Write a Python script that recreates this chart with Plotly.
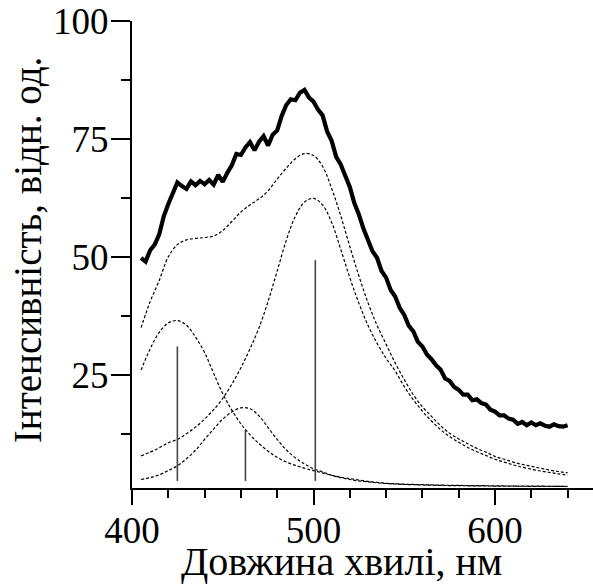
import plotly.graph_objects as go
import numpy as np

# Measured spectrum (thick line), 2.5 nm step from 405 to 640 nm
wl_meas = np.arange(405, 640.01, 2.5)
intensity_meas = [
    49.8, 49.0, 51.4, 52.6, 54.8, 58.6, 61.2, 63.8, 65.8, 65.0,
    64.4, 66.0, 65.2, 66.1, 65.4, 66.3, 65.3, 67.4, 65.9, 67.8,
    69.4, 71.8, 71.6, 73.2, 74.3, 72.6, 74.4, 75.6, 73.6, 75.9,
    76.8, 79.9, 82.2, 83.4, 83.2, 84.8, 85.4, 83.8, 82.9, 81.2,
    80.0, 76.6, 74.6, 71.2, 69.6, 67.2, 64.8, 61.4, 59.0, 56.0,
    53.8, 51.2, 49.8, 47.0, 45.6, 43.0, 41.6, 39.2, 37.7, 35.4,
    34.2, 32.0, 31.0, 29.3, 28.3, 27.0, 26.1, 24.2, 23.7, 22.4,
    21.8, 20.8, 20.8, 19.6, 19.8, 19.0, 18.7, 17.6, 17.2, 16.4,
    16.4, 15.7, 15.5, 14.6, 15.0, 14.3, 14.9, 14.3, 14.7, 14.2,
    14.0, 14.5, 14.1, 14.0, 14.3,
]

# Fitted components (dashed), 5 nm step from 405 to 640 nm
wl_fit = np.arange(405, 640.01, 5)
fit_sum = [
    35.0, 40.5, 45.0, 50.0, 52.6, 53.6, 53.9, 54.1, 54.4, 55.6,
    57.5, 59.5, 61.0, 62.3, 64.0, 66.5, 68.8, 70.8, 71.9, 71.5,
    69.2, 64.5, 58.7, 52.2, 46.0, 40.3, 35.5, 31.5, 27.5, 24.0,
    20.8, 18.2, 16.2, 14.2, 12.6, 11.4, 10.4, 9.4, 8.6, 7.7,
    7.1, 6.5, 6.0, 5.6, 5.2, 4.8, 4.5, 4.2,
]
band_425 = [
    26.0, 30.5, 34.0, 36.0, 36.5, 35.5, 33.0, 29.7, 25.3, 21.0,
    17.5, 14.6, 12.3, 10.4, 8.8, 7.5, 6.5, 5.8, 5.2, 4.7,
    4.2, 3.7, 3.3, 3.0, 2.7, 2.4, 2.2, 2.0, 1.9, 1.8,
    1.75, 1.7, 1.65, 1.6, 1.58, 1.55, 1.52, 1.5, 1.48, 1.45,
    1.43, 1.42, 1.4, 1.39, 1.38, 1.37, 1.36, 1.35,
]
band_462 = [
    2.8, 3.2, 3.8, 4.7, 5.7, 7.2, 9.0, 11.3, 13.5, 15.6,
    17.1, 18.0, 17.8, 16.3, 13.8, 11.3, 9.1, 7.4, 6.1, 5.1,
    4.4, 3.7, 3.2, 2.8, 2.5, 2.3, 2.1, 1.95, 1.85, 1.75,
    1.7, 1.65, 1.6, 1.55, 1.52, 1.5, 1.47, 1.45, 1.43, 1.41,
    1.4, 1.38, 1.37, 1.36, 1.35, 1.34, 1.33, 1.32,
]
band_500 = [
    7.8, 8.6, 9.5, 10.6, 11.3, 12.5, 13.9, 15.6, 17.6, 20.0,
    23.0, 26.5, 30.5, 35.0, 40.6, 47.0, 53.5, 58.6, 61.6, 62.4,
    61.0, 57.3, 51.6, 45.6, 40.2, 35.5, 31.7, 28.5, 25.8, 22.5,
    19.7, 17.3, 15.2, 13.4, 11.9, 10.7, 9.6, 8.7, 7.9, 7.1,
    6.5, 5.9, 5.4, 5.0, 4.6, 4.3, 4.0, 3.7,
]

# Band positions (vertical lines)
band_pos = [425, 462.5, 501]
band_top = [31.0, 13.3, 49.3]
band_base = 2.5

x_ticks = [400, 500, 600]
y_ticks = [25, 50, 75, 100]

fig = go.Figure()

dash = "3px,2px"
for ys in [fit_sum, band_425, band_462, band_500]:
    fig.add_trace(go.Scatter(
        x=wl_fit, y=ys, mode="lines", line_shape="spline",
        line=dict(color="black", width=1.2, dash=dash),
        showlegend=False, hoverinfo="skip"))

vx, vy = [], []
for p, h in zip(band_pos, band_top):
    vx += [p, p, None]
    vy += [band_base, h, None]
fig.add_trace(go.Scatter(x=vx, y=vy, mode="lines",
                         line=dict(color="#444444", width=1.6),
                         showlegend=False, hoverinfo="skip"))

fig.add_trace(go.Scatter(
    x=wl_meas, y=intensity_meas, mode="lines",
    line=dict(color="black", width=4.2),
    showlegend=False, hoverinfo="skip"))

font_family = "Liberation Serif"

fig.update_layout(
    width=593, height=584,
    margin=dict(l=132, r=0, t=21, b=96),
    paper_bgcolor="white", plot_bgcolor="white",
    font=dict(family=font_family, color="black"),
    xaxis=dict(
        range=[400, 654], tickvals=x_ticks, ticktext=[str(v) for v in x_ticks],
        ticks="outside", ticklen=15, tickwidth=2, tickcolor="black",
        showline=True, linecolor="black", linewidth=2,
        showgrid=False, zeroline=False, ticklabelstandoff=-6,
        tickfont=dict(size=37, family=font_family),
        minor=dict(tickvals=list(range(420, 660, 20)), ticks="outside",
                   ticklen=8, tickwidth=2, tickcolor="black", showgrid=False),
    ),
    yaxis=dict(
        range=[1.0, 100], tickvals=y_ticks, ticktext=[str(v) for v in y_ticks],
        ticks="outside", ticklen=19, tickwidth=2, tickcolor="black",
        showline=True, linecolor="black", linewidth=2,
        showgrid=False, zeroline=False, ticklabelstandoff=-5,
        tickfont=dict(size=37, family=font_family),
        minor=dict(tickvals=[12.5, 37.5, 62.5, 87.5], ticks="outside",
                   ticklen=9, tickwidth=2, tickcolor="black", showgrid=False),
    ),
    annotations=[
        dict(text="Довжина хвилі, нм", xref="paper", yref="paper",
             x=0.455, y=-0.157, xanchor="center", yanchor="middle",
             showarrow=False, font=dict(size=40, family=font_family)),
        dict(text="Інтенсивність, відн. од.", xref="paper", yref="paper",
             x=-0.227, y=0.51, xanchor="center", yanchor="middle",
             textangle=-90, showarrow=False,
             font=dict(size=39, family=font_family)),
    ],
)

fig.write_html("out.html")
